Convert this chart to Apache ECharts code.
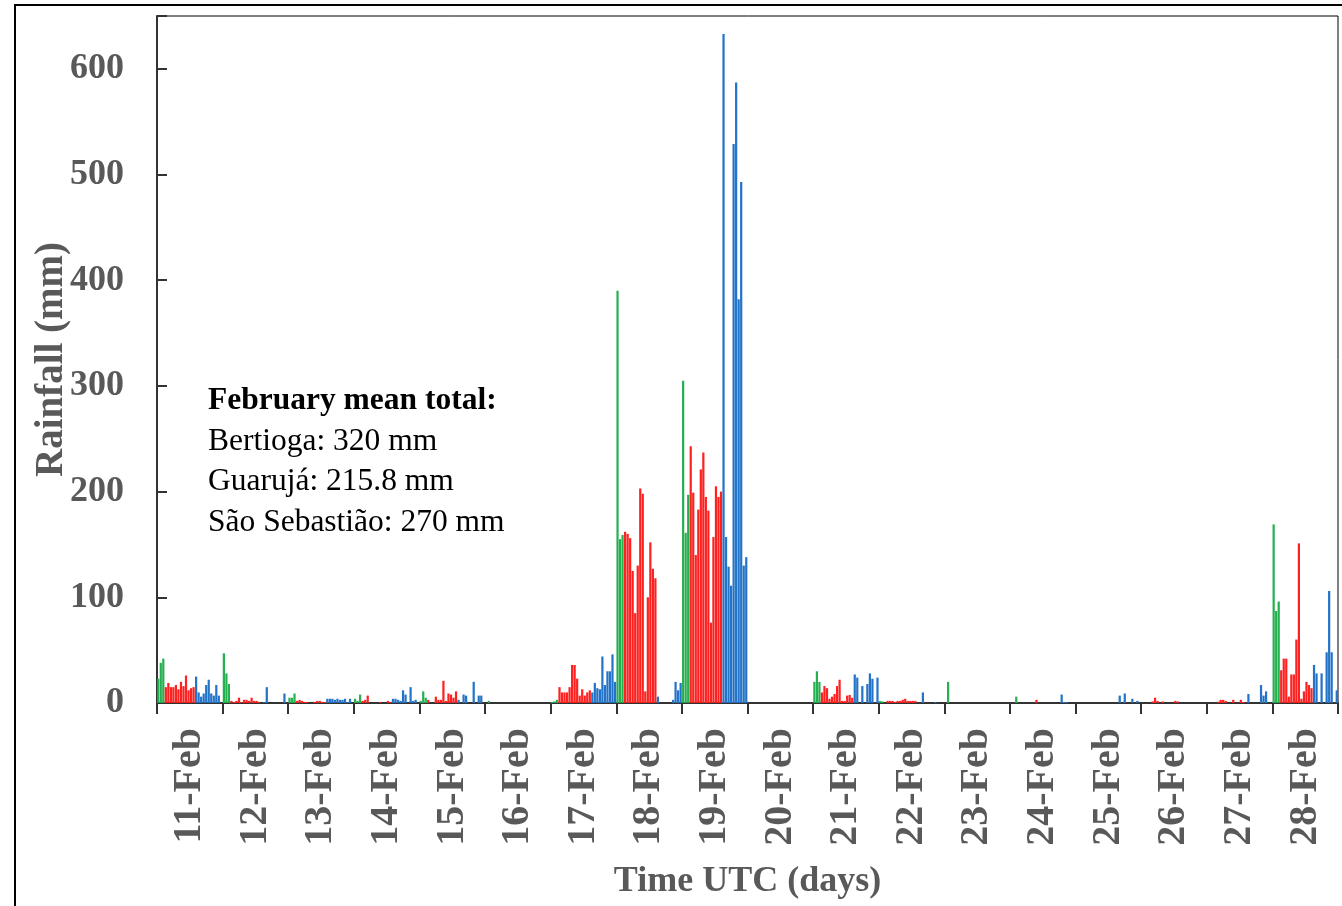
<!DOCTYPE html>
<html>
<head>
<meta charset="utf-8">
<script src="https://cdn.jsdelivr.net/npm/echarts@6/dist/echarts.min.js"></script>
<style>
  html, body { margin: 0; padding: 0; background: #fff; }
  #chart { width: 1342px; height: 906px; }
</style>
</head>
<body>
<div id="chart"></div>
<script>
// day labels on the x axis
const days = ['11-Feb', '12-Feb', '13-Feb', '14-Feb', '15-Feb', '16-Feb', '17-Feb', '18-Feb', '19-Feb',
  '20-Feb', '21-Feb', '22-Feb', '23-Feb', '24-Feb', '25-Feb', '26-Feb', '27-Feb', '28-Feb'];

// rainfall (mm), one row per day
const bertioga = [
  [23, 38, 42], [47, 28, 18], [5, 5, 9], [4, 2, 8], [2, 11, 5], [0, 2, 0],
  [1, 1.5, 3], [390, 155, 159], [305, 161, 197], [0, 0, 0], [20, 30, 20], [2, 1.5, 0],
  [0, 20, 0], [0, 0, 6], [0, 0, 0], [0, 0, 0], [0, 0, 0], [169, 87, 96]
];
const guaruja = [
  [15, 19, 15, 15, 17, 13, 20, 16, 26, 12, 14, 15],
  [2, 1, 2, 5, 1, 3, 3, 2, 5, 2, 2, 1],
  [2, 3, 2, 1, 1, 0, 0, 1, 2, 2, 1, 1],
  [2, 3, 7, 0, 0, 0, 0, 1, 0, 0, 2, 1],
  [3, 0, 0, 6, 3, 3, 21, 2, 9, 8, 5, 11],
  [0, 0, 0, 0, 0, 0, 0, 0, 0, 0, 0, 0],
  [15, 10, 10, 10, 15, 36, 36, 23, 7, 13, 7, 10, 12],
  [162, 160, 156, 125, 85, 130, 203, 198, 11, 100, 152, 127, 118],
  [243, 199, 140, 183, 221, 237, 195, 182, 76, 157, 205, 195, 200],
  [0, 0, 0, 0, 0, 0, 0, 0, 0, 0, 0, 0],
  [10, 16, 14, 4, 6, 8.5, 16, 22, 2, 2, 7, 7.6, 5],
  [2, 2, 2, 1, 2, 2, 3, 4, 2, 2, 2, 2],
  [0, 0, 0, 0, 0, 0, 0, 0, 0, 0, 0, 0],
  [0, 0, 0, 0, 0, 0, 0, 3, 0, 0, 0, 0],
  [0, 0, 0, 0, 0, 0, 0, 0, 0, 0, 0, 0],
  [0, 1.5, 5, 2, 0, 1.5, 0, 0, 0, 0, 2, 1.5],
  [0, 1.3, 3, 3, 2, 0, 0, 3, 0, 0, 3, 1],
  [31, 42, 42, 6, 27, 27, 60, 151, 4, 11, 20, 17, 14]
];
const saoSebastiao = [
  [25, 10, 6, 9, 17, 22, 9, 7, 17, 7],
  [0, 1, 15, 0, 0, 0, 0, 0, 0, 9],
  [4, 4, 4, 3, 4, 3, 3, 4, 1, 4],
  [4, 4, 3, 2, 12, 8, 0, 15, 2, 3],
  [3, 0, 8, 7, 0, 0, 20, 0, 7, 7],
  [0, 0, 0, 0, 0, 0, 0, 0, 0, 0],
  [10, 19, 14, 13, 44, 17, 30, 30, 46, 20],
  [6, 0, 0, 0, 0, 0, 3, 20, 12, 19],
  [633, 157, 129, 111, 529, 587, 382, 493, 130, 138],
  [0, 0, 0, 0, 0, 0, 0, 0, 0, 0],
  [27, 24, 0, 16, 0, 18, 28, 23, 0, 24],
  [0, 0, 10, 0, 0, 0, 0, 1, 0, 0],
  [0, 0, 0, 0, 0, 0, 0, 0, 0, 0],
  [0, 0, 0, 0, 0, 8, 1, 1, 0, 0],
  [0, 0, 7, 0, 9, 0, 0, 4, 0, 2],
  [0, 0, 0, 0, 0, 0, 0, 0, 0, 0],
  [0, 8.5, 0, 0, 0, 0, 17, 7, 11, 0],
  [36, 28, 0, 28, 0, 48, 106, 48, 0, 12]
];

const yTicks = [0, 100, 200, 300, 400, 500, 600];
const notes = ['February mean total:', 'Bertioga: 320 mm', 'Guarujá: 215.8 mm', 'São Sebastião: 270 mm'];

const slotsPerDay = 26;
const serif = "'Times New Roman', 'Liberation Serif', serif";
const grey = '#595959';

// every day gets the same number of slots: green, then red, then blue, then empty
let slots = [];
let gData = [], rData = [], bData = [];
for (let d = 0; d < days.length; d++) {
  let n = 0;
  const push = (v, which) => {
    slots.push(days[d] + '-' + n);
    gData.push(which === 0 ? v : '-');
    rData.push(which === 1 ? v : '-');
    bData.push(which === 2 ? v : '-');
    n++;
  };
  bertioga[d].forEach(v => push(v, 0));
  guaruja[d].forEach(v => push(v, 1));
  saoSebastiao[d].forEach(v => push(v, 2));
  while (n < slotsPerDay) push('-', 3);
}

const chart = echarts.init(document.getElementById('chart'));

const barSeries = (name, data, color) => ({
  name: name,
  type: 'bar',
  xAxisIndex: 0,
  data: data,
  barGap: '-100%',
  barCategoryGap: '12%',
  itemStyle: { color: color },
  silent: true
});

const option = {
  animation: false,
  backgroundColor: '#fff',
  grid: {
    left: 157, right: 4, top: 16, bottom: 203,
    show: true, borderColor: '#000', borderWidth: 1
  },
  xAxis: [
    {
      type: 'category',
      data: slots,
      show: false
    },
    {
      type: 'category',
      data: days,
      position: 'bottom',
      name: 'Time UTC (days)',
      nameLocation: 'middle',
      nameGap: 161,
      nameMoveOverlap: false,
      nameTextStyle: { fontFamily: serif, fontWeight: 'bold', fontSize: 36, color: grey },
      axisLine: { lineStyle: { color: '#333', width: 2 } },
      axisTick: { show: true, length: 11, lineStyle: { color: '#333', width: 2 } },
      axisLabel: {
        rotate: 90,
        margin: 25,
        fontFamily: serif, fontWeight: 'bold', fontSize: 40, color: grey
      }
    }
  ],
  yAxis: {
    type: 'value',
    min: 0,
    max: 650,
    interval: 100,
    name: 'Rainfall (mm)',
    nameLocation: 'middle',
    nameGap: 86,
    nameMoveOverlap: false,
    nameTextStyle: { fontFamily: serif, fontWeight: 'bold', fontSize: 39, color: grey },
    axisLine: { show: true, lineStyle: { color: '#333', width: 2 } },
    axisTick: { show: true, inside: true, length: 10, lineStyle: { color: '#333', width: 2 } },
    splitLine: { show: false },
    axisLabel: {
      margin: 33,
      fontFamily: serif, fontWeight: 'bold', fontSize: 36, color: grey,
      formatter: v => (yTicks.indexOf(v) >= 0 ? String(v) : '')
    }
  },
  series: [
    barSeries('Bertioga', gData, '#25b050'),
    barSeries('Guarujá', rData, '#ff2020'),
    barSeries('São Sebastião', bData, '#2373c8')
  ],
  graphic: [
    {
      type: 'rect',
      shape: { x: 15, y: 5, width: 1400, height: 1000 },
      style: { fill: 'none', stroke: '#000', lineWidth: 2 },
      silent: true
    }
  ].concat(notes.map((t, i) => ({
    type: 'text',
    left: 208,
    top: 385 + i * 40.5,
    style: {
      text: t,
      fontFamily: serif,
      fontWeight: i === 0 ? 'bold' : 'normal',
      fontSize: 31.5,
      fill: '#000'
    }
  })))
};

chart.setOption(option);
window.addEventListener('resize', () => chart.resize());
</script>
</body>
</html>
